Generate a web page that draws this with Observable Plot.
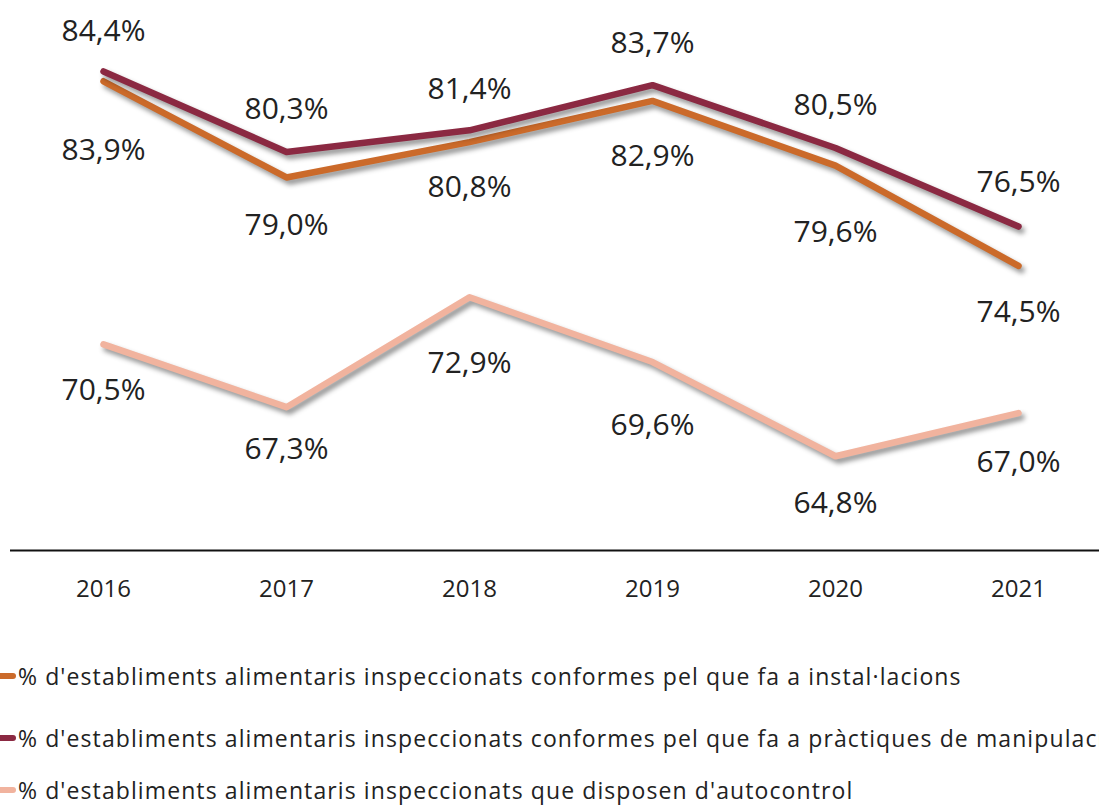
<!DOCTYPE html>
<html><head><meta charset="utf-8">
<script src="https://cdn.jsdelivr.net/npm/d3@7"></script>
<script src="https://cdn.jsdelivr.net/npm/@observablehq/plot@0.6"></script>
<style>
html,body{margin:0;padding:0;background:#fff;overflow:hidden;width:1099px;height:807px}
#chart{position:relative;width:1099px;height:807px;overflow:hidden}
#chart svg g[aria-label="line"] path{filter:drop-shadow(3px 4px 2.5px rgba(0,0,0,0.42))}
.row{position:absolute;left:0;display:flex;align-items:center;height:30px;white-space:nowrap;font-family:"Open Sans";font-size:23px;letter-spacing:1.1px;color:#222}
.sw{width:16px;height:6px;border-radius:0 3px 3px 0;margin-right:2px;flex:none}
</style></head>
<body><div id="chart"></div>
<script>
const years = ["2016","2017","2018","2019","2020","2021"];
const seriesNames = [
  "% d'establiments alimentaris inspeccionats conformes pel que fa a instal·lacions",
  "% d'establiments alimentaris inspeccionats conformes pel que fa a pràctiques de manipulació",
  "% d'establiments alimentaris inspeccionats que disposen d'autocontrol"
];
const instalValues = [83.9, 79.0, 80.8, 82.9, 79.6, 74.5];
const manipValues  = [84.4, 80.3, 81.4, 83.7, 80.5, 76.5];
const autoValues   = [70.5, 67.3, 72.9, 69.6, 64.8, 67.0];
const colors = ["#CB6A2A", "#8B2942", "#F1B39E"];

const seriesValues = [instalValues, manipValues, autoValues];
const rows = seriesValues.flatMap((vals, s) => vals.map((v, i) => ({series: seriesNames[s], year: years[i], value: v, s, i})));

// label vertical nudges (layout), per series, per year
const labelNudge = [
  [69, 48, 45, 55, 67, 47],
  [-40, -43, -41, -42, -43, -44],
  [46, 42, 66, 63, 47, 49]
];
const fmt = v => v.toFixed(1).replace(".", ",") + "%";

const labelMarks = rows.map(r => Plot.text([r], {
  x: "year", y: "value", text: d => fmt(d.value),
  dy: labelNudge[r.s][r.i], fontSize: 30, fill: "#222", fontFamily: "Open Sans"
}));

const chart = Plot.plot({
  width: 1099, height: 620,
  marginLeft: 10, marginRight: 0, marginTop: 0, marginBottom: 70,
  style: {fontFamily: "Open Sans", background: "transparent", overflow: "visible"},
  x: {type: "point", domain: years, range: [102, 1018], padding: 0, label: null},
  y: {domain: [60, 90], range: [550, -39], axis: null},
  color: {domain: seriesNames, range: colors},
  marks: [
    Plot.ruleY([60], {stroke: "#111", strokeWidth: 2}),
    Plot.lineY(rows, {x: "year", y: "value", z: "series", stroke: "series", strokeWidth: 6.5, strokeLinecap: "round", strokeLinejoin: "round"}),
    ...labelMarks,
    Plot.axisX({tickSize: 0, tickPadding: 29, fontSize: 24, fill: "#222", fontFamily: "Open Sans", label: null})
  ]
});
const container = document.getElementById("chart");
container.appendChild(chart);

const rowTops = [661, 723, 775];
seriesNames.forEach((name, k) => {
  const row = document.createElement("div");
  row.className = "row";
  row.style.top = rowTops[k] + "px";
  const sw = document.createElement("span");
  sw.className = "sw";
  sw.style.background = colors[k];
  const t = document.createElement("span");
  t.textContent = name;
  row.appendChild(sw); row.appendChild(t);
  container.appendChild(row);
});
</script>
</body></html>
